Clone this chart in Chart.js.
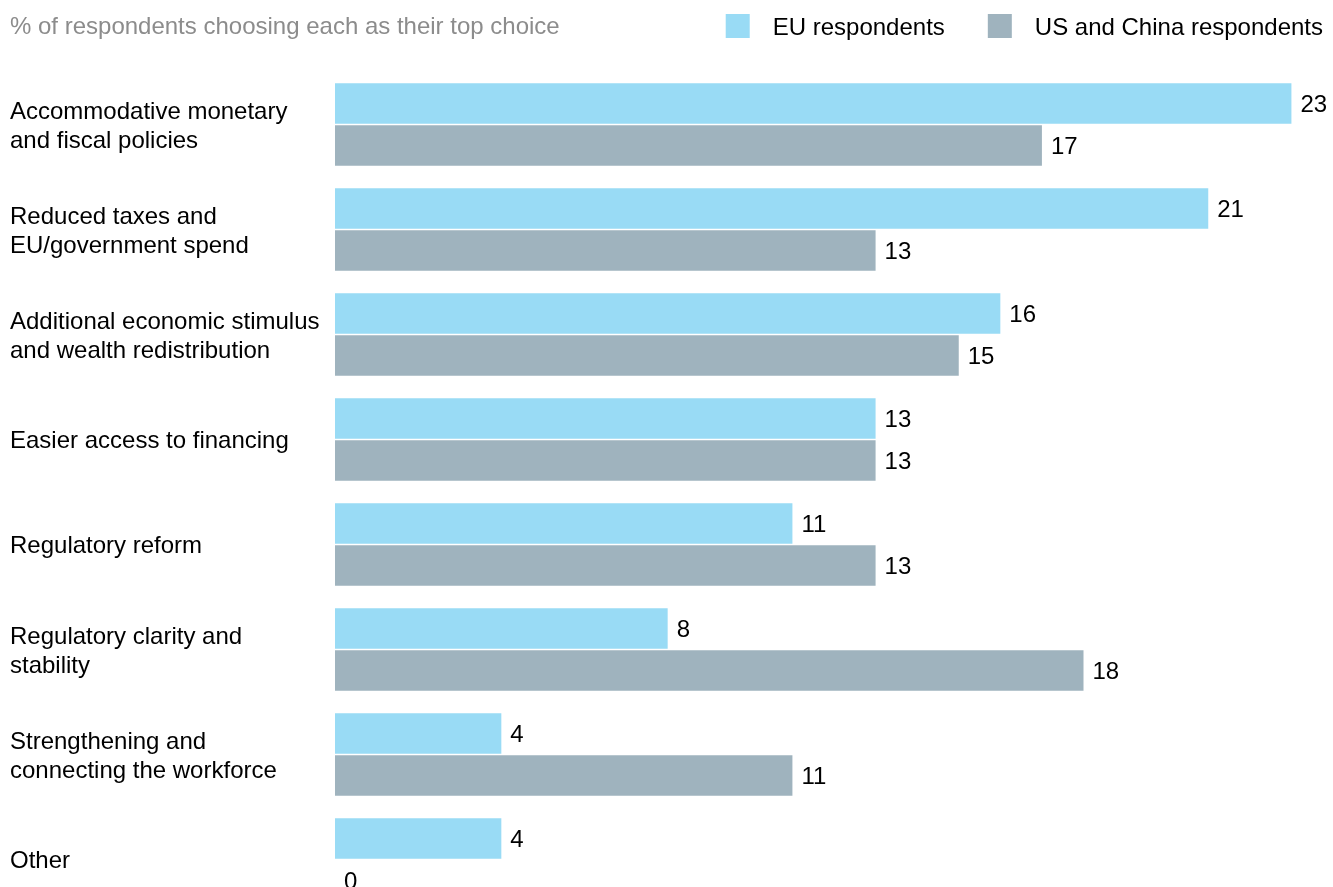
<!DOCTYPE html>
<html>
<head>
<meta charset="utf-8">
<title>Top policy choices</title>
<script src="https://cdn.jsdelivr.net/npm/chart.js@4.4.1/dist/chart.umd.min.js"></script>
<style>
  html, body { margin: 0; padding: 0; background: #ffffff; overflow: hidden; }
  #chart { display: block; }
</style>
</head>
<body>
<canvas id="chart" width="1333" height="912" style="width:1333px;height:912px"></canvas>
<script>
// Policy options (multi-line labels as drawn on the axis)
const categories = [
  ['Accommodative monetary', 'and fiscal policies'],
  ['Reduced taxes and', 'EU/government spend'],
  ['Additional economic stimulus', 'and wealth redistribution'],
  ['Easier access to financing'],
  ['Regulatory reform'],
  ['Regulatory clarity and', 'stability'],
  ['Strengthening and', 'connecting the workforce'],
  ['Other']
];

// % of respondents choosing each option as their top choice
const euRespondents = [23, 21, 16, 13, 11, 8, 4, 4];
const usChinaRespondents = [17, 13, 15, 13, 13, 18, 11, 0];

const seriesNames = ['EU respondents', 'US and China respondents'];
const subtitle = '% of respondents choosing each as their top choice';

const FONT = "'Liberation Sans', Arial, Helvetica, sans-serif";
const COLORS = ['#99dbf5', '#9fb3be'];

Chart.defaults.font.family = FONT;

// Subtitle on the left, series key on the right, on one row above the bars
const headerPlugin = {
  id: 'header',
  afterDraw(chart) {
    const ctx = chart.ctx;
    ctx.save();
    ctx.font = '24px ' + FONT;
    ctx.textBaseline = 'middle';
    ctx.textAlign = 'left';
    ctx.fillStyle = '#8c8c8c';
    ctx.fillText(subtitle, 10, 27);

    const box = 24, gapText = 23, gapItem = 43, rowY = 26;
    const items = chart.data.datasets.map(ds => ({
      text: ds.label, color: ds.backgroundColor, w: ctx.measureText(ds.label).width
    }));
    let total = 0;
    items.forEach((it, i) => { total += box + gapText + it.w + (i ? gapItem : 0); });
    let x = chart.width - 10 - total;
    items.forEach((it, i) => {
      if (i) x += gapItem;
      ctx.fillStyle = it.color;
      ctx.fillRect(x, rowY - box / 2, box, box);
      x += box + gapText;
      ctx.fillStyle = '#000000';
      ctx.fillText(it.text, x, rowY + 2);
      x += it.w;
    });
    ctx.restore();
  }
};

// Value printed just past the end of every bar
const valueLabels = {
  id: 'valueLabels',
  afterDatasetsDraw(chart) {
    const ctx = chart.ctx;
    ctx.save();
    ctx.font = '24px ' + FONT;
    ctx.fillStyle = '#000000';
    ctx.textAlign = 'left';
    ctx.textBaseline = 'middle';
    chart.data.datasets.forEach((ds, di) => {
      const meta = chart.getDatasetMeta(di);
      meta.data.forEach((bar, i) => {
        ctx.fillText(String(ds.data[i]), bar.x + 9, bar.y + 2);
      });
    });
    ctx.restore();
  }
};

new Chart(document.getElementById('chart'), {
  type: 'bar',
  data: {
    labels: categories,
    datasets: [
      { label: seriesNames[0], data: euRespondents, backgroundColor: COLORS[0] },
      { label: seriesNames[1], data: usChinaRespondents, backgroundColor: COLORS[1] }
    ]
  },
  options: {
    indexAxis: 'y',
    responsive: false,
    maintainAspectRatio: false,
    devicePixelRatio: 1,
    animation: false,
    layout: { padding: { left: 10, right: 0, top: 72, bottom: 0 } },
    datasets: {
      bar: { categoryPercentage: 0.8, barPercentage: 0.97, borderWidth: 0 }
    },
    scales: {
      x: {
        display: false,
        min: 0,
        max: 24
      },
      y: {
        grid: { display: false },
        border: { display: false },
        ticks: {
          crossAlign: 'far',
          padding: 0,
          labelOffset: 2,
          color: '#000000',
          font: { size: 24, family: FONT, lineHeight: 1.2 }
        },
        afterFit(scale) {
          // fixed label column; the last band runs past the bottom edge
          scale.width = 325;
          scale.paddingTop = 0;
          scale.paddingBottom = 0;
        }
      }
    },
    plugins: {
      legend: { display: false },
      tooltip: { enabled: false }
    }
  },
  plugins: [headerPlugin, valueLabels]
});
</script>
</body>
</html>
